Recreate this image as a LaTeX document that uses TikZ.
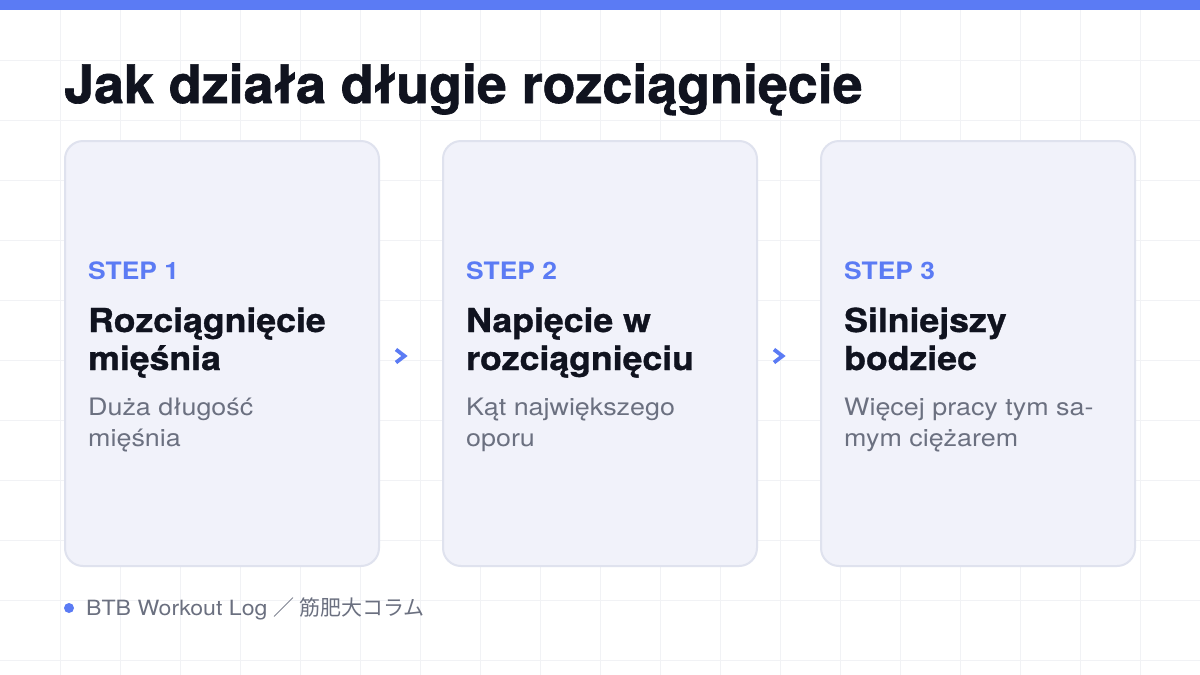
\documentclass[tikz,border=0pt]{standalone}
\usepackage{fontspec}
\setmainfont{TeX Gyre Heros}
\newfontfamily\heavyfont{TeX Gyre Heros}[FakeBold=1.2, FakeStretch=1.015]
\newfontfamily\titlefont{TeX Gyre Heros}[FakeBold=1.0, FakeStretch=1.08]
\newfontfamily\widefont{TeX Gyre Heros}[FakeStretch=1.1]
\newfontfamily\descfont{TeX Gyre Heros}[FakeStretch=1.12]
\newfontfamily\cjkfont{Noto Sans CJK JP}
\usetikzlibrary{calc}
\definecolor{accent}{HTML}{5B7BF4}
\definecolor{ink}{HTML}{10131F}
\definecolor{muted}{HTML}{6B7080}
\definecolor{cardfill}{HTML}{F1F2FA}
\definecolor{cardline}{HTML}{DFE2EE}
\definecolor{gridc}{HTML}{F1F2F5}
\tikzset{
  card/.style={draw=cardline, line width=2pt, fill=cardfill, rounded corners=18pt,
    minimum width=314pt, minimum height=425pt, inner sep=0pt},
  steplabel/.style={anchor=base west, inner sep=0pt, text=accent,
    font=\widefont\bfseries\fontsize{24}{28}\selectfont},
  cardtitle/.style={anchor=base west, inner sep=0pt, text=ink, align=left,
    font=\titlefont\bfseries\fontsize{33}{38}\selectfont},
  carddesc/.style={anchor=base west, inner sep=0pt, text=muted, align=left,
    font=\descfont\fontsize{24}{31}\selectfont},
  chev/.style={draw=accent, line width=3.8pt, line join=miter},
}
\begin{document}
\begin{tikzpicture}[x=1pt,y=-1pt]
\useasboundingbox (0,0) rectangle (1200,675);
\fill[white] (0,0) rectangle (1200,675);
% grid
\foreach \gx in {60,120,...,1140} \draw[gridc, line width=1pt] (\gx,10) -- (\gx,675);
\foreach \gy in {60,120,...,660} \draw[gridc, line width=1pt] (0,\gy) -- (1200,\gy);
% top bar
\fill[accent] (0,0) rectangle (1200,10);
% title
\node[anchor=base west, inner sep=0pt, text=ink, font=\heavyfont\bfseries\fontsize{53}{60}\selectfont]
  (title) at (64,103) {Jak działa długie rozciągnięcie};
% cards
\node[card] (c1) at (222,353.5) {};
\node[card] (c2) at (600,353.5) {};
\node[card] (c3) at (978,353.5) {};
% card texts (base anchor = baseline of the last line)
\foreach \c/\s/\t/\d in {
  c1/STEP 1/{Rozciągnięcie\\mięśnia}/{Duża długość\\mięśnia},
  c2/STEP 2/{Napięcie w\\rozciągnięciu}/{Kąt największego\\oporu},
  c3/STEP 3/{Silniejszy\\bodziec}/{Więcej pracy tym sa-\\mym ciężarem}}{
  \node[steplabel] (\c s) at ($(\c.west)+(24,-74.5)$) {\s};
  \node[cardtitle] (\c t) at ($(\c.west)+(24,16.5)$) {\t};
  \node[carddesc] (\c d) at ($(\c.west)+(24,92.5)$) {\d};
}
% chevrons between cards
\coordinate (a1) at ($(c1.east)!0.5!(c2.west)+(-10,2.5)$);
\coordinate (a2) at ($(c2.east)!0.5!(c3.west)+(-10,2.5)$);
\foreach \a in {a1,a2}{
  \draw[chev] ($(\a)+(-5,-6.5)$) -- ($(\a)+(3.5,0)$) -- ($(\a)+(-5,6.5)$);
}
% footer
\fill[accent] (69,608) circle (5pt);
\node[anchor=base west, inner sep=0pt, text=muted, font=\widefont\fontsize{21}{24}\selectfont]
  (foot) at (86,615.5) {BTB Workout Log {\cjkfont ／ 筋肥大コラム}};
\end{tikzpicture}
\end{document}
